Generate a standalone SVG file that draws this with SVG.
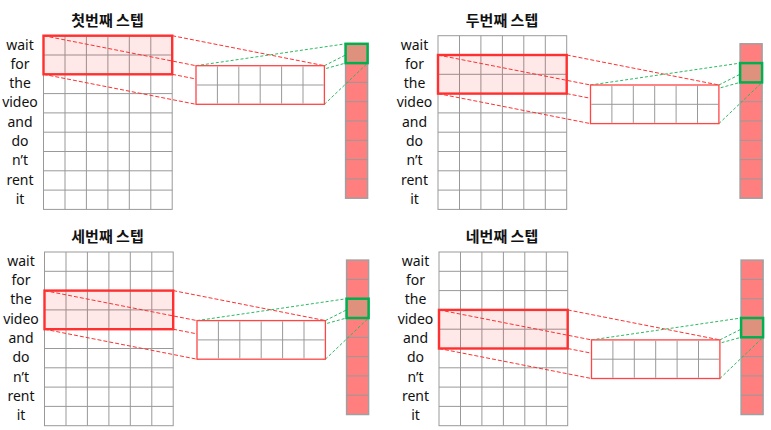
<svg xmlns="http://www.w3.org/2000/svg" xmlns:xlink="http://www.w3.org/1999/xlink" width="771" height="430" viewBox="0 0 771 430">
<style>
.title{font-family:"Noto Sans CJK KR","Noto Sans",sans-serif;font-size:15px;font-weight:bold;fill:#111;text-anchor:middle}
.word{font-family:"Noto Sans","Noto Sans CJK KR",sans-serif;font-size:14px;fill:#111;text-anchor:middle}
.grid{fill:#fff;stroke:#999;stroke-width:1}
.gl{fill:none;stroke:#999;stroke-width:1}
.hl{fill:#ff0000;fill-opacity:0.09;stroke:#ff3030;stroke-width:2.4}
.box{fill:#fff;stroke:#ff4545;stroke-width:1.3}
.vec{fill:#ff7f7f;stroke:#a0a0a0;stroke-width:1.5}
.sq{fill:#de927e;stroke:#00b050;stroke-width:2.5}
.rd{stroke:#ff3030;stroke-width:1;stroke-dasharray:4 2;fill:none}
.gd{stroke:#2dba62;stroke-width:1;stroke-dasharray:3 2;fill:none}
</style>
<defs>
<g id="wordgrid">
<rect class="grid" x="43.5" y="35.7" width="128.7" height="173.7"/>
<path class="gl" d="M65 35.7V209.4M86.4 35.7V209.4M107.9 35.7V209.4M129.3 35.7V209.4M150.8 35.7V209.4M43.5 55H172.2M43.5 74.3H172.2M43.5 93.6H172.2M43.5 112.9H172.2M43.5 132.2H172.2M43.5 151.5H172.2M43.5 170.8H172.2M43.5 190.1H172.2"/>
<text class="word" x="20" y="49.5">wait</text>
<text class="word" x="20" y="68.8">for</text>
<text class="word" x="20" y="88.1">the</text>
<text class="word" x="20" y="107.4">video</text>
<text class="word" x="20" y="126.7">and</text>
<text class="word" x="20" y="146">do</text>
<text class="word" x="20" y="165.3">n’t</text>
<text class="word" x="20" y="184.6">rent</text>
<text class="word" x="20" y="203.9">it</text>
</g>
<g id="vector">
<rect class="vec" x="345.6" y="43.8" width="22" height="154.4"/>
<path class="gl" d="M345.6 63.1H367.6M345.6 82.4H367.6M345.6 101.7H367.6M345.6 121H367.6M345.6 140.3H367.6M345.6 159.6H367.6M345.6 178.9H367.6"/>
</g>
<g id="fmap">
<rect class="box" x="196" y="0" width="128.4" height="38.6"/>
<path class="gl" d="M217.4 0.7V37.9M238.8 0.7V37.9M260.2 0.7V37.9M281.6 0.7V37.9M303 0.7V37.9M196.7 19.3H323.7"/>
</g>
<g id="links">
<path class="rd" d="M43.5 0L196 30M172.2 0L324.4 30M43.5 38.6L196 68.6M172.2 38.6L324.4 68.6"/>
</g>
</defs>

<g id="step1">
<text class="title" x="107.5" y="26">첫번째 스텝</text>
<use id="step1-grid" xlink:href="#wordgrid"/>
<rect id="step1-window" class="hl" x="43.5" y="35.7" width="128.7" height="38.6"/>
<g id="step1-connectors">
<use xlink:href="#links" y="35.7"/>
</g>
<use id="step1-vector" xlink:href="#vector"/>
<g id="step1-connectors-green">
<path class="gd" d="M196 65.7L345.6 43.8M324.4 65.7L367.6 43.8M196 104.3L345.6 63.1M324.4 104.3L367.6 63.1"/>
</g>
<use id="step1-featuremap" xlink:href="#fmap" y="65.7"/>
<rect id="step1-output" class="sq" x="345.6" y="43.8" width="22" height="19.3"/>
</g>

<g id="step2" transform="translate(394.5,0)">
<text class="title" x="107.5" y="26">두번째 스텝</text>
<use id="step2-grid" xlink:href="#wordgrid"/>
<rect id="step2-window" class="hl" x="43.5" y="55" width="128.7" height="38.6"/>
<g id="step2-connectors">
<use xlink:href="#links" y="55"/>
</g>
<use id="step2-vector" xlink:href="#vector"/>
<g id="step2-connectors-green">
<path class="gd" d="M196 85L345.6 63.1M324.4 85L367.6 63.1M196 123.6L345.6 82.4M324.4 123.6L367.6 82.4"/>
</g>
<use id="step2-featuremap" xlink:href="#fmap" y="85"/>
<rect id="step2-output" class="sq" x="345.6" y="63.1" width="22" height="19.3"/>
</g>

<g id="step3" transform="translate(1,216.3)">
<text class="title" x="106.5" y="25.5">세번째 스텝</text>
<use id="step3-grid" xlink:href="#wordgrid"/>
<rect id="step3-window" class="hl" x="43.5" y="74.3" width="128.7" height="38.6"/>
<g id="step3-connectors">
<use xlink:href="#links" y="74.3"/>
</g>
<use id="step3-vector" xlink:href="#vector"/>
<g id="step3-connectors-green">
<path class="gd" d="M196 104.3L345.6 82.4M324.4 104.3L367.6 82.4M196 142.9L345.6 101.7M324.4 142.9L367.6 101.7"/>
</g>
<use id="step3-featuremap" xlink:href="#fmap" y="104.3"/>
<rect id="step3-output" class="sq" x="345.6" y="82.4" width="22" height="19.3"/>
</g>

<g id="step4" transform="translate(395.5,216.3)">
<text class="title" x="106.5" y="25.5">네번째 스텝</text>
<use id="step4-grid" xlink:href="#wordgrid"/>
<rect id="step4-window" class="hl" x="43.5" y="93.6" width="128.7" height="38.6"/>
<g id="step4-connectors">
<use xlink:href="#links" y="93.6"/>
</g>
<use id="step4-vector" xlink:href="#vector"/>
<g id="step4-connectors-green">
<path class="gd" d="M196 123.6L345.6 101.7M324.4 123.6L367.6 101.7M196 162.2L345.6 121M324.4 162.2L367.6 121"/>
</g>
<use id="step4-featuremap" xlink:href="#fmap" y="123.6"/>
<rect id="step4-output" class="sq" x="345.6" y="101.7" width="22" height="19.3"/>
</g>
</svg>
